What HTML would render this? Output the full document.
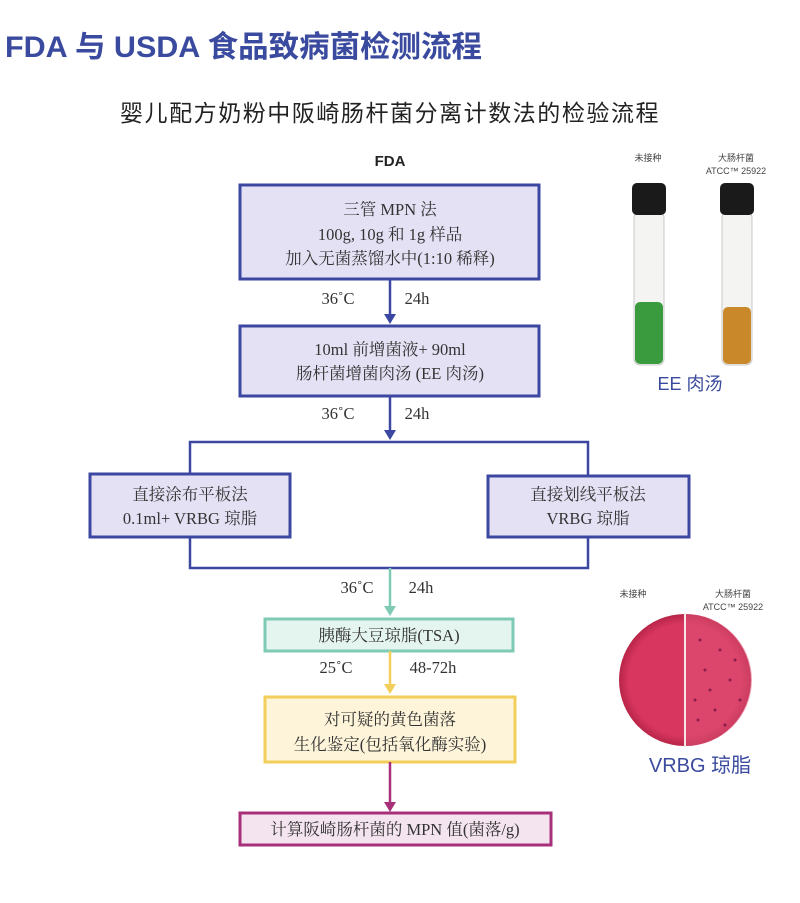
<!DOCTYPE html>
<html><head><meta charset="utf-8"><style>
body{margin:0;background:#fff;}
svg{display:block;}
.t{font-family:"Liberation Serif","Noto Serif CJK SC",serif;font-size:16.5px;fill:#333;}
.s{font-family:"Liberation Sans","Noto Sans CJK SC",sans-serif;}
</style></head><body>
<svg width="800" height="903" viewBox="0 0 800 903" xmlns="http://www.w3.org/2000/svg">
<defs>
<radialGradient id="pl" cx="0.5" cy="0.5" r="0.5"><stop offset="0.85" stop-color="#d8365e"/><stop offset="1" stop-color="#b82548"/></radialGradient>
</defs>
<text x="5" y="57" class="s" font-size="30" font-weight="bold" fill="#3a4a9e" textLength="477" lengthAdjust="spacingAndGlyphs">FDA 与 USDA 食品致病菌检测流程</text>
<text x="120" y="121" class="s" font-size="23" letter-spacing="1.5" fill="#222" textLength="540">婴儿配方奶粉中阪崎肠杆菌分离计数法的检验流程</text>
<text x="390" y="166" class="s" font-size="15" font-weight="bold" fill="#222" text-anchor="middle">FDA</text>

<g stroke="#3b47a0" stroke-width="3" fill="#e5e1f5">
<rect x="240" y="185" width="299" height="94"/>
<rect x="240" y="326" width="299" height="70"/>
<rect x="90" y="474" width="200" height="63"/>
<rect x="488" y="476" width="201" height="61"/>
</g>
<g stroke="#3b47a0" stroke-width="2.5" fill="none">
<line x1="390" y1="279" x2="390" y2="318"/>
<line x1="390" y1="396" x2="390" y2="434"/>
<polyline points="190,474 190,442 588,442 588,476"/>
<polyline points="190,537 190,568 588,568 588,537"/>
</g>
<g fill="#3b47a0">
<polygon points="384,314 396,314 390,324"/>
<polygon points="384,430 396,430 390,440"/>
</g>
<text class="t" text-anchor="middle"><tspan x="390" y="215">三管 MPN 法</tspan><tspan x="390" y="240">100g, 10g 和 1g 样品</tspan><tspan x="390" y="264">加入无菌蒸馏水中(1:10 稀释)</tspan></text>
<text class="t" text-anchor="middle"><tspan x="390" y="355">10ml 前增菌液+ 90ml</tspan><tspan x="390" y="379">肠杆菌增菌肉汤 (EE 肉汤)</tspan></text>
<text class="t" text-anchor="middle"><tspan x="190" y="500">直接涂布平板法</tspan><tspan x="190" y="524">0.1ml+ VRBG 琼脂</tspan></text>
<text class="t" text-anchor="middle"><tspan x="588" y="500">直接划线平板法</tspan><tspan x="588" y="524">VRBG 琼脂</tspan></text>
<text class="t" x="338" y="304" text-anchor="middle">36˚C</text><text class="t" x="417" y="304" text-anchor="middle">24h</text>
<text class="t" x="338" y="419" text-anchor="middle">36˚C</text><text class="t" x="417" y="419" text-anchor="middle">24h</text>
<text class="t" x="357" y="593" text-anchor="middle">36˚C</text><text class="t" x="421" y="593" text-anchor="middle">24h</text>

<line x1="390" y1="568" x2="390" y2="610" stroke="#7ecab5" stroke-width="2.5"/>
<polygon points="384,606 396,606 390,616" fill="#7ecab5"/>
<rect x="265" y="619" width="248" height="32" fill="#e4f4ee" stroke="#7ecab5" stroke-width="3"/>
<text class="t" x="389" y="641" text-anchor="middle">胰酶大豆琼脂(TSA)</text>

<line x1="390" y1="651" x2="390" y2="688" stroke="#f2cf5a" stroke-width="2.5"/>
<polygon points="384,684 396,684 390,694" fill="#f2cf5a"/>
<text class="t" x="336" y="673" text-anchor="middle">25˚C</text><text class="t" x="433" y="673" text-anchor="middle">48-72h</text>
<rect x="265" y="697" width="250" height="65" fill="#fdf4d9" stroke="#f2cf5a" stroke-width="3"/>
<text class="t" text-anchor="middle"><tspan x="390" y="725">对可疑的黄色菌落</tspan><tspan x="390" y="750">生化鉴定(包括氧化酶实验)</tspan></text>

<line x1="390" y1="762" x2="390" y2="806" stroke="#a8307a" stroke-width="2.5"/>
<polygon points="384,802 396,802 390,812" fill="#a8307a"/>
<rect x="240" y="813" width="311" height="32" fill="#f4e4ef" stroke="#a8307a" stroke-width="3"/>
<text class="t" x="395" y="835" text-anchor="middle">计算阪崎肠杆菌的 MPN 值(菌落/g)</text>

<g class="s" font-size="9" fill="#444" text-anchor="middle">
<text x="648" y="161">未接种</text>
<text x="736" y="161">大肠杆菌</text>
<text x="736" y="174">ATCC™ 25922</text>
<text x="633" y="597">未接种</text>
<text x="733" y="597">大肠杆菌</text>
<text x="733" y="610">ATCC™ 25922</text>
</g>
<rect x="634" y="212" width="30" height="153" rx="6" fill="#f4f4f2" stroke="#c8c8c8"/>
<rect x="635" y="302" width="28" height="62" rx="5" fill="#3a9b3e"/>
<rect x="632" y="183" width="34" height="32" rx="5" fill="#1a1a1a"/>
<rect x="722" y="212" width="30" height="153" rx="6" fill="#f4f4f2" stroke="#c8c8c8"/>
<rect x="723" y="307" width="28" height="57" rx="5" fill="#c9882a"/>
<rect x="720" y="183" width="34" height="32" rx="5" fill="#1a1a1a"/>
<text x="690" y="390" class="s" font-size="18" fill="#3a4a9e" text-anchor="middle">EE 肉汤</text>

<circle cx="685" cy="680" r="66" fill="url(#pl)"/>
<path d="M686 614 A66 66 0 0 1 686 746 Z" fill="#e0557a" opacity="0.5"/>
<rect x="684" y="613" width="2" height="134" fill="#f5e6e8"/>
<g fill="#8a1e4a">
<circle cx="700" cy="640" r="1.5"/><circle cx="720" cy="650" r="1.5"/><circle cx="705" cy="670" r="1.5"/><circle cx="730" cy="680" r="1.5"/><circle cx="695" cy="700" r="1.5"/><circle cx="715" cy="710" r="1.5"/><circle cx="740" cy="700" r="1.5"/><circle cx="710" cy="690" r="1.5"/><circle cx="725" cy="725" r="1.5"/><circle cx="698" cy="720" r="1.5"/><circle cx="735" cy="660" r="1.5"/>
</g>
<text x="700" y="772" class="s" font-size="20" fill="#3a4a9e" text-anchor="middle">VRBG 琼脂</text>
</svg>
</body></html>
